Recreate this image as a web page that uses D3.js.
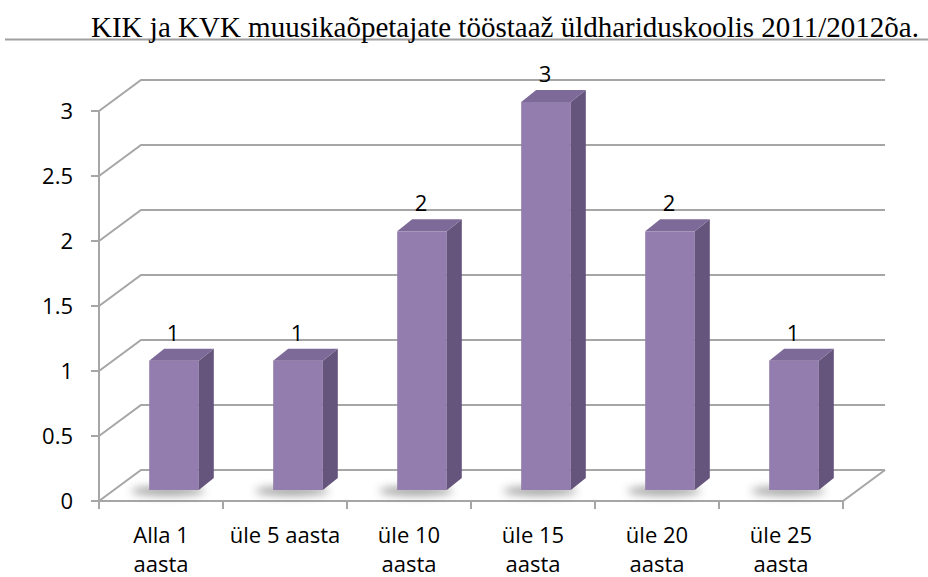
<!DOCTYPE html>
<meta charset="utf-8">
<style>
    body { margin: 0; background: #fff; }
    text { font-family: "Open Sans", "Noto Sans", sans-serif; fill: #000; }
    .grid { stroke: #a6a6a6; stroke-width: 2; fill: none; }
</style>
<body>
<script src="https://cdn.jsdelivr.net/npm/d3@7"></script>
<script>
    var categories = [["Alla 1", "aasta"], ["üle 5 aasta"], ["üle 10", "aasta"], ["üle 15", "aasta"], ["üle 20", "aasta"], ["üle 25", "aasta"]]
    var values = [1, 1, 2, 3, 2, 1]
    var yTicks = [0, 0.5, 1, 1.5, 2, 2.5, 3]
    var title = "KIK ja KVK muusikaõpetajate tööstaaž üldhariduskoolis 2011/2012õa."

    var width = 928,
        height = 577

    var svg = d3.select("body").append("svg")
        .attr("width", width)
        .attr("height", height)

    // depth of the back wall and of the bars
    var wall = { dx: 42, dy: -31 },
        bar = { dx: 15, dy: -12, sx: 13, sy: -11 }

    var x = d3.scaleBand()
        .domain(d3.range(categories.length))
        .range([99, 843])
        .padding(0)

    var y = d3.scaleLinear().domain([0, 3]).range([501, 111])
    var yBar = d3.scaleLinear().domain([0, 3]).range([490, 102])

    var defs = svg.append("defs")
    defs.append("filter").attr("id", "blur")
        .attr("x", "-50%").attr("y", "-200%").attr("width", "200%").attr("height", "500%")
        .append("feGaussianBlur").attr("stdDeviation", 4)

    // title
    svg.append("line")
        .attr("x1", 5).attr("x2", width).attr("y1", 39.5).attr("y2", 39.5)
        .attr("stroke", "#a0a0a0").attr("stroke-width", 2)
    svg.append("text")
        .attr("x", 91).attr("y", 37)
        .style("font-family", "'Liberation Serif', 'DejaVu Serif', serif")
        .style("font-size", "29px")
        .attr("textLength", 828)
        .attr("lengthAdjust", "spacingAndGlyphs")
        .text(title)

    var x0 = x.range()[0], x1 = x.range()[1]

    // gridlines: left wall diagonal + back wall horizontal
    svg.selectAll(".grid-line")
        .data(yTicks)
        .enter().append("polyline")
        .attr("class", "grid")
        .attr("points", function (d) {
            return [[x0, y(d)], [x0 + wall.dx, y(d) + wall.dy], [x1 + wall.dx, y(d) + wall.dy]].join(" ")
        })

    // floor front edge and right edge
    svg.append("polyline")
        .attr("class", "grid")
        .attr("points", [[x0, y(0)], [x1, y(0)], [x1 + wall.dx, y(0) + wall.dy]].join(" "))

    // y axis
    svg.append("line").attr("class", "grid")
        .attr("x1", x0).attr("x2", x0).attr("y1", y(3)).attr("y2", y(0))
    var yAxis = svg.append("g").selectAll("g")
        .data(yTicks)
        .enter().append("g")
        .attr("transform", function (d) { return "translate(0," + y(d) + ")" })
    yAxis.append("line").attr("class", "grid")
        .attr("x1", x0 - 8).attr("x2", x0)
    yAxis.append("text")
        .attr("x", 73).attr("dy", "0.36em")
        .attr("text-anchor", "end")
        .style("font-size", "22px")
        .text(function (d) { return d })

    // x ticks
    svg.selectAll(".xtick")
        .data(d3.range(categories.length + 1))
        .enter().append("line")
        .attr("class", "grid")
        .attr("x1", function (d) { return x0 + d * x.step() })
        .attr("x2", function (d) { return x0 + d * x.step() })
        .attr("y1", y(0)).attr("y2", y(0) + 8)

    // x labels
    var xl = svg.selectAll(".xlabel")
        .data(categories)
        .enter().append("text")
        .attr("text-anchor", "middle")
        .style("font-size", "22px")
        .attr("transform", function (d, i) { return "translate(" + (x(i) + x.step() / 2) + ",543)" })
    xl.selectAll("tspan")
        .data(function (d) { return d })
        .enter().append("tspan")
        .attr("x", 0)
        .attr("y", function (d, i) { return i * 29 })
        .text(function (d) { return d })

    // bars
    var bw = x.step() * 0.4
    var bars = svg.selectAll(".bar")
        .data(values)
        .enter().append("g")
        .attr("transform", function (d, i) {
            return "translate(" + (x(i) + x.step() / 2 - bw / 2 + bar.sx) + ",0)"
        })

    bars.append("ellipse")
        .attr("cx", bw / 2 - 6).attr("cy", yBar(0) + 1)
        .attr("rx", bw / 2 + 12).attr("ry", 5)
        .attr("fill", "#666").attr("opacity", 0.6)
        .attr("filter", "url(#blur)")

    bars.append("rect")
        .attr("x", 0).attr("width", bw)
        .attr("y", function (d) { return yBar(d) })
        .attr("height", function (d) { return yBar(0) - yBar(d) })
        .attr("fill", "#937cae")

    bars.append("polygon")
        .attr("fill", "#65547b")
        .attr("points", function (d) {
            return [[bw, yBar(d)], [bw + bar.dx, yBar(d) + bar.dy], [bw + bar.dx, yBar(0) + bar.dy], [bw, yBar(0)]].join(" ")
        })

    bars.append("polygon")
        .attr("fill", "#7d6a98")
        .attr("points", function (d) {
            return [[0, yBar(d)], [bar.dx, yBar(d) + bar.dy], [bw + bar.dx, yBar(d) + bar.dy], [bw, yBar(d)]].join(" ")
        })

    bars.append("text")
        .attr("x", bw / 2 - 1)
        .attr("y", function (d) { return yBar(d) - 20 })
        .attr("text-anchor", "middle")
        .style("font-size", "22px")
        .text(function (d) { return d })
</script>
